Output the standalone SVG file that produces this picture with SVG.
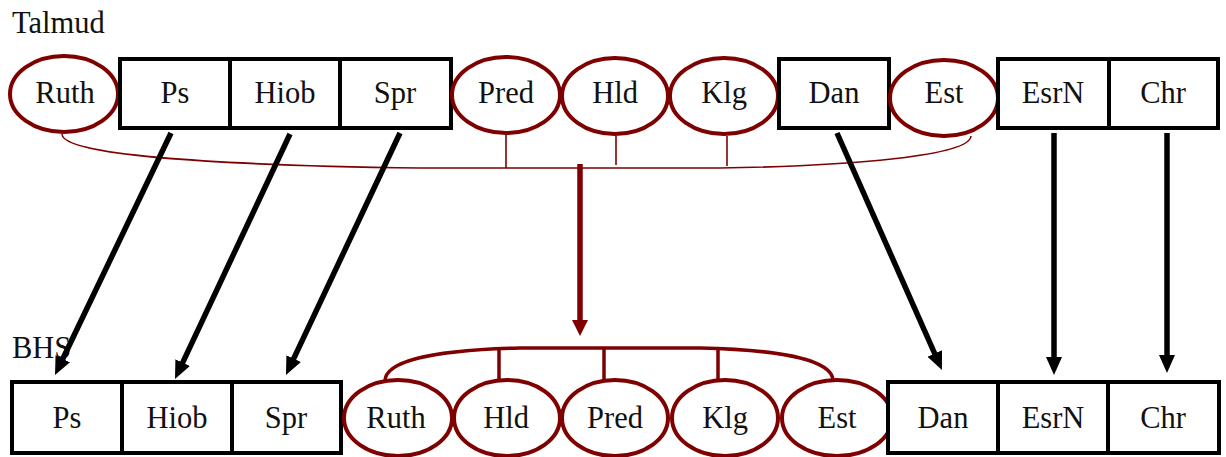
<svg xmlns="http://www.w3.org/2000/svg" width="1226" height="457" viewBox="0 0 1226 457">
<style>
text{font-family:"Liberation Serif","Times New Roman",serif;font-size:30.5px;fill:#111;}
.c{text-anchor:middle;}
.box{fill:#fff;stroke:#000;stroke-width:4;}
.ell{fill:#fff;stroke:#7f0000;stroke-width:4;}
.blk{stroke:#000;stroke-width:5.5;fill:none;}
.red{stroke:#7f0000;stroke-width:5.5;fill:none;}
.thin{stroke:#7f0000;stroke-width:1.6;fill:none;}
.brk{stroke:#7f0000;stroke-width:3.5;fill:none;}
</style>
<defs>
<marker id="ab" markerUnits="userSpaceOnUse" markerWidth="18" markerHeight="16" refX="6" refY="8" orient="auto"><path d="M0,0 L18,8 L0,16 z" fill="#000"/></marker>
<marker id="ar" markerUnits="userSpaceOnUse" markerWidth="16" markerHeight="16" refX="4" refY="8" orient="auto"><path d="M0,0 L16,8 L0,16 z" fill="#7f0000"/></marker>
</defs>
<text x="12" y="33">Talmud</text>
<text x="12" y="358">BHS</text>
<g id="connectors">
<path class="thin" d="M62,134 C62,154 200,165 420,168 L720,168 C850,166 970,156 971,136"/>
<line class="thin" x1="506" y1="133" x2="506" y2="168"/>
<line class="thin" x1="616" y1="136" x2="616" y2="165"/>
<line class="thin" x1="727" y1="136" x2="727" y2="166"/>
<line class="red" x1="580" y1="164" x2="580" y2="324" marker-end="url(#ar)"/>
<path class="brk" d="M385,381 C385,362 430,350 520,348 L700,348 C790,350 833,362 833,381"/>
<line class="brk" x1="499" y1="348" x2="499" y2="382"/>
<line class="brk" x1="604" y1="348" x2="604" y2="381"/>
<line class="brk" x1="718" y1="348" x2="718" y2="382"/>
<line class="blk" x1="171" y1="133" x2="60.2" y2="364.2" marker-end="url(#ab)"/>
<line class="blk" x1="290" y1="134" x2="180.1" y2="368.1" marker-end="url(#ab)"/>
<line class="blk" x1="400" y1="133" x2="291.1" y2="364.1" marker-end="url(#ab)"/>
<line class="blk" x1="837" y1="133" x2="937.1" y2="359" marker-end="url(#ab)"/>
<line class="blk" x1="1054" y1="133" x2="1054" y2="363" marker-end="url(#ab)"/>
<line class="blk" x1="1167" y1="133" x2="1167" y2="361" marker-end="url(#ab)"/>
</g>
<g id="t-ruth"><ellipse class="ell" cx="64" cy="94" rx="54" ry="38"/><text class="c" x="65" y="103">Ruth</text></g>
<g id="t-ps"><rect class="box" x="120" y="59" width="110" height="69"/><text class="c" x="175" y="103">Ps</text></g>
<g id="t-hiob"><rect class="box" x="230" y="59" width="110" height="69"/><text class="c" x="285" y="103">Hiob</text></g>
<g id="t-spr"><rect class="box" x="340" y="59" width="111" height="69"/><text class="c" x="395" y="103">Spr</text></g>
<g id="t-pred"><ellipse class="ell" cx="506" cy="95" rx="54" ry="38"/><text class="c" x="506" y="103">Pred</text></g>
<g id="t-hld"><ellipse class="ell" cx="615" cy="96" rx="53" ry="38"/><text class="c" x="615" y="103">Hld</text></g>
<g id="t-klg"><ellipse class="ell" cx="724" cy="96" rx="54" ry="38"/><text class="c" x="724" y="103">Klg</text></g>
<g id="t-dan"><rect class="box" x="779" y="59" width="110" height="69"/><text class="c" x="834" y="103">Dan</text></g>
<g id="t-est"><ellipse class="ell" cx="944" cy="98" rx="54" ry="38"/><text class="c" x="944" y="103">Est</text></g>
<g id="t-esrn"><rect class="box" x="998" y="59" width="111" height="69"/><text class="c" x="1053" y="103">EsrN</text></g>
<g id="t-chr"><rect class="box" x="1109" y="59" width="109" height="69"/><text class="c" x="1163" y="103">Chr</text></g>
<g id="b-ps"><rect class="box" x="12" y="382" width="110" height="71"/><text class="c" x="67" y="428">Ps</text></g>
<g id="b-hiob"><rect class="box" x="122" y="382" width="110" height="71"/><text class="c" x="177" y="428">Hiob</text></g>
<g id="b-spr"><rect class="box" x="232" y="382" width="109" height="71"/><text class="c" x="286" y="428">Spr</text></g>
<g id="b-ruth"><ellipse class="ell" cx="398" cy="418" rx="54" ry="38"/><text class="c" x="396" y="428">Ruth</text></g>
<g id="b-hld"><ellipse class="ell" cx="507" cy="418" rx="53" ry="38"/><text class="c" x="506" y="428">Hld</text></g>
<g id="b-pred"><ellipse class="ell" cx="615" cy="418" rx="53" ry="38"/><text class="c" x="615" y="428">Pred</text></g>
<g id="b-klg"><ellipse class="ell" cx="725" cy="418" rx="53" ry="38"/><text class="c" x="725" y="428">Klg</text></g>
<g id="b-est"><ellipse class="ell" cx="837" cy="418" rx="55" ry="38"/><text class="c" x="837" y="428">Est</text></g>
<g id="b-dan"><rect class="box" x="888" y="382" width="110" height="71"/><text class="c" x="943" y="428">Dan</text></g>
<g id="b-esrn"><rect class="box" x="998" y="382" width="110" height="71"/><text class="c" x="1053" y="428">EsrN</text></g>
<g id="b-chr"><rect class="box" x="1108" y="382" width="111" height="71"/><text class="c" x="1163" y="428">Chr</text></g>
</svg>
